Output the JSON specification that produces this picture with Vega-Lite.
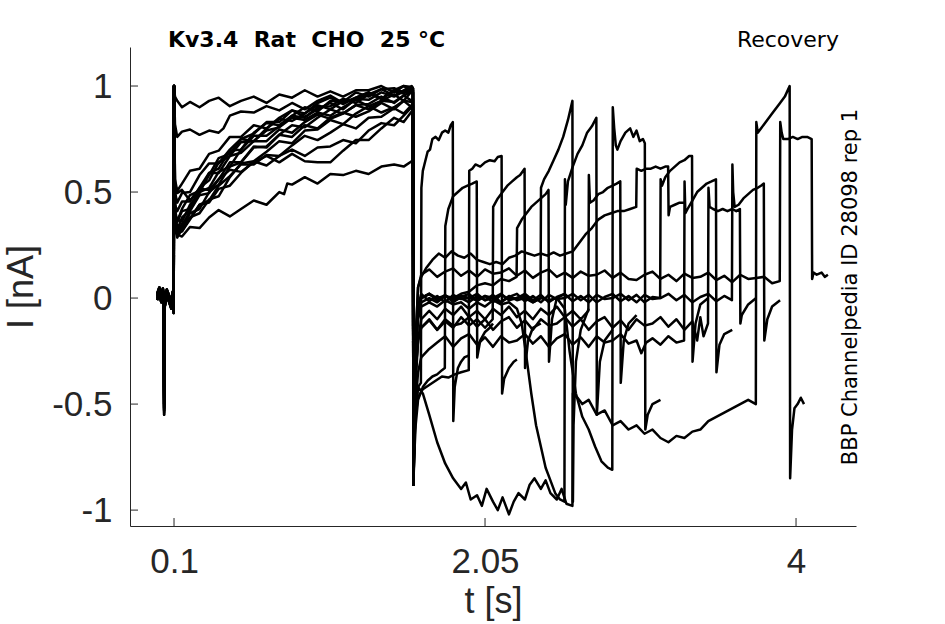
{
"$schema": "https://vega.github.io/schema/vega-lite/v6.json",
"autosize": {"type": "none"},
"padding": {"left": 130, "top": 47, "right": 89, "bottom": 98},
"width": 726,
"height": 479,
"background": "white",
"config": {
  "view": {"stroke": null},
  "axis": {"domainColor": "#262626", "labelColor": "#262626", "titleColor": "#262626", "labelFont": "Liberation Sans", "titleFont": "Liberation Sans", "labelFontSize": 35, "titleFontSize": 36, "titleFontWeight": "normal", "grid": false, "ticks": false, "domainWidth": 1}
},
"layer": [
{
"data": {"values": [
{"s":0,"t":-0.006,"v":0},{"s":0,"t":0.008,"v":0.03},{"s":0,"t":0.02,"v":-0.01},{"s":0,"t":0.03,"v":0.025},{"s":0,"t":0.036,"v":0},{"s":0,"t":0.038,"v":-0.52},{"s":0,"t":0.042,"v":-0.03},{"s":0,"t":0.055,"v":0.02},{"s":0,"t":0.07,"v":-0.01},{"s":0,"t":0.083,"v":-0.04},{"s":0,"t":0.092,"v":0.01},{"s":0,"t":0.098,"v":-0.06},{"s":0,"t":0.1,"v":1},{"s":0,"t":0.106,"v":0.95},
{"s":0,"t":0.12,"v":0.93},{"s":0,"t":0.15,"v":0.9},{"s":0,"t":0.2,"v":0.925},{"s":0,"t":0.26,"v":0.9},{"s":0,"t":0.32,"v":0.93},{"s":0,"t":0.38,"v":0.945},{"s":0,"t":0.45,"v":0.905},{"s":0,"t":0.52,"v":0.93},{"s":0,"t":0.6,"v":0.95},{"s":0,"t":0.68,"v":0.92},{"s":0,"t":0.76,"v":0.96},{"s":0,"t":0.84,"v":0.945},{"s":0,"t":0.92,"v":0.98},{"s":0,"t":1.0,"v":0.95},{"s":0,"t":1.08,"v":0.975},{"s":0,"t":1.16,"v":0.95},{"s":0,"t":1.24,"v":0.98},{"s":0,"t":1.32,"v":0.98},{"s":0,"t":1.4,"v":1.0},{"s":0,"t":1.48,"v":0.97},{"s":0,"t":1.54,"v":1.0},{"s":0,"t":1.59,"v":0.995},
{"s":0,"t":1.598,"v":0.99},{"s":0,"t":1.601,"v":-0.88},{"s":0,"t":1.606,"v":-0.7},{"s":0,"t":1.615,"v":-0.5},{"s":0,"t":1.63,"v":-0.42},{"s":0,"t":1.648,"v":-0.4},{"s":0,"t":1.651,"v":0.52},{"s":0,"t":1.66,"v":0.6},{"s":0,"t":1.67,"v":0.63},{"s":0,"t":1.69,"v":0.69},{"s":0,"t":1.705,"v":0.7},{"s":0,"t":1.72,"v":0.75},{"s":0,"t":1.74,"v":0.76},{"s":0,"t":1.76,"v":0.745},{"s":0,"t":1.78,"v":0.78},{"s":0,"t":1.8,"v":0.79},{"s":0,"t":1.82,"v":0.78},{"s":0,"t":1.835,"v":0.815},{"s":0,"t":1.848,"v":0.83},{"s":0,"t":1.851,"v":-0.58},{"s":0,"t":1.86,"v":-0.42},{"s":0,"t":1.88,"v":-0.33},{"s":0,"t":1.9,"v":-0.3},{"s":0,"t":1.92,"v":-0.28},{"s":0,"t":1.95,"v":-0.27},

{"s":1,"t":-0.006,"v":0.01},{"s":1,"t":0.008,"v":0.04},{"s":1,"t":0.02,"v":0},{"s":1,"t":0.03,"v":0.035},{"s":1,"t":0.036,"v":0.01},{"s":1,"t":0.038,"v":-0.48},{"s":1,"t":0.042,"v":-0.02},{"s":1,"t":0.055,"v":0.03},{"s":1,"t":0.07,"v":0},{"s":1,"t":0.083,"v":-0.03},{"s":1,"t":0.092,"v":0.02},{"s":1,"t":0.098,"v":-0.05},{"s":1,"t":0.1,"v":1},{"s":1,"t":0.106,"v":0.82},
{"s":1,"t":0.12,"v":0.76},{"s":1,"t":0.15,"v":0.785},{"s":1,"t":0.2,"v":0.795},{"s":1,"t":0.26,"v":0.77},{"s":1,"t":0.32,"v":0.79},{"s":1,"t":0.38,"v":0.78},{"s":1,"t":0.41,"v":0.8},{"s":1,"t":0.45,"v":0.86},{"s":1,"t":0.52,"v":0.88},{"s":1,"t":0.6,"v":0.875},{"s":1,"t":0.68,"v":0.905},{"s":1,"t":0.76,"v":0.885},{"s":1,"t":0.84,"v":0.92},{"s":1,"t":0.92,"v":0.89},{"s":1,"t":1.0,"v":0.93},{"s":1,"t":1.08,"v":0.955},{"s":1,"t":1.16,"v":0.92},{"s":1,"t":1.24,"v":0.945},{"s":1,"t":1.32,"v":0.97},{"s":1,"t":1.4,"v":0.94},{"s":1,"t":1.48,"v":0.98},{"s":1,"t":1.54,"v":0.97},{"s":1,"t":1.59,"v":0.995},
{"s":1,"t":1.598,"v":0.99},{"s":1,"t":1.601,"v":-0.88},{"s":1,"t":1.606,"v":-0.75},{"s":1,"t":1.615,"v":-0.6},{"s":1,"t":1.63,"v":-0.48},{"s":1,"t":1.66,"v":-0.42},{"s":1,"t":1.69,"v":-0.39},{"s":1,"t":1.72,"v":-0.37},{"s":1,"t":1.75,"v":-0.36},{"s":1,"t":1.78,"v":-0.34},{"s":1,"t":1.798,"v":-0.33},{"s":1,"t":1.801,"v":0.34},{"s":1,"t":1.82,"v":0.42},{"s":1,"t":1.85,"v":0.48},{"s":1,"t":1.88,"v":0.5},{"s":1,"t":1.91,"v":0.52},{"s":1,"t":1.94,"v":0.53},{"s":1,"t":1.97,"v":0.54},{"s":1,"t":1.998,"v":0.55},{"s":1,"t":2.001,"v":-0.28},{"s":1,"t":2.02,"v":-0.2},{"s":1,"t":2.05,"v":-0.16},{"s":1,"t":2.08,"v":-0.14},{"s":1,"t":2.1,"v":-0.12},

{"s":2,"t":-0.006,"v":-0.01},{"s":2,"t":0.008,"v":0.02},{"s":2,"t":0.02,"v":-0.02},{"s":2,"t":0.03,"v":0.015},{"s":2,"t":0.036,"v":-0.01},{"s":2,"t":0.038,"v":-0.55},{"s":2,"t":0.042,"v":-0.04},{"s":2,"t":0.055,"v":0.01},{"s":2,"t":0.07,"v":-0.02},{"s":2,"t":0.083,"v":-0.05},{"s":2,"t":0.092,"v":0},{"s":2,"t":0.098,"v":-0.07},{"s":2,"t":0.1,"v":1},{"s":2,"t":0.106,"v":0.56},
{"s":2,"t":0.12,"v":0.505},{"s":2,"t":0.15,"v":0.54},{"s":2,"t":0.2,"v":0.6},{"s":2,"t":0.26,"v":0.61},{"s":2,"t":0.32,"v":0.68},{"s":2,"t":0.38,"v":0.695},{"s":2,"t":0.45,"v":0.76},{"s":2,"t":0.52,"v":0.76},{"s":2,"t":0.6,"v":0.815},{"s":2,"t":0.68,"v":0.8},{"s":2,"t":0.76,"v":0.85},{"s":2,"t":0.84,"v":0.885},{"s":2,"t":0.92,"v":0.855},{"s":2,"t":1.0,"v":0.89},{"s":2,"t":1.08,"v":0.92},{"s":2,"t":1.16,"v":0.89},{"s":2,"t":1.24,"v":0.94},{"s":2,"t":1.32,"v":0.935},{"s":2,"t":1.4,"v":0.97},{"s":2,"t":1.48,"v":0.95},{"s":2,"t":1.54,"v":0.975},{"s":2,"t":1.59,"v":0.97},
{"s":2,"t":1.598,"v":0.97},{"s":2,"t":1.601,"v":-0.88},{"s":2,"t":1.606,"v":-0.7},{"s":2,"t":1.615,"v":-0.55},{"s":2,"t":1.63,"v":-0.47},{"s":2,"t":1.66,"v":-0.43},{"s":2,"t":1.7,"v":-0.41},{"s":2,"t":1.74,"v":-0.39},{"s":2,"t":1.78,"v":-0.37},{"s":2,"t":1.82,"v":-0.375},{"s":2,"t":1.86,"v":-0.36},{"s":2,"t":1.9,"v":-0.35},{"s":2,"t":1.948,"v":-0.34},{"s":2,"t":1.951,"v":0.6},{"s":2,"t":1.97,"v":0.61},{"s":2,"t":1.99,"v":0.63},{"s":2,"t":2.02,"v":0.62},{"s":2,"t":2.05,"v":0.64},{"s":2,"t":2.08,"v":0.65},{"s":2,"t":2.11,"v":0.645},{"s":2,"t":2.13,"v":0.665},{"s":2,"t":2.154,"v":0.67},{"s":2,"t":2.157,"v":-0.45},{"s":2,"t":2.17,"v":-0.38},{"s":2,"t":2.2,"v":-0.33},{"s":2,"t":2.23,"v":-0.3},{"s":2,"t":2.25,"v":-0.29},

{"s":3,"t":-0.006,"v":0.02},{"s":3,"t":0.008,"v":0.05},{"s":3,"t":0.02,"v":0.01},{"s":3,"t":0.03,"v":0.045},{"s":3,"t":0.036,"v":0.02},{"s":3,"t":0.038,"v":-0.45},{"s":3,"t":0.042,"v":-0.01},{"s":3,"t":0.055,"v":0.04},{"s":3,"t":0.07,"v":0.01},{"s":3,"t":0.083,"v":-0.02},{"s":3,"t":0.092,"v":0.03},{"s":3,"t":0.098,"v":-0.04},{"s":3,"t":0.1,"v":1},{"s":3,"t":0.106,"v":0.5},
{"s":3,"t":0.12,"v":0.45},{"s":3,"t":0.15,"v":0.495},{"s":3,"t":0.2,"v":0.5},{"s":3,"t":0.26,"v":0.58},{"s":3,"t":0.32,"v":0.635},{"s":3,"t":0.38,"v":0.635},{"s":3,"t":0.45,"v":0.7},{"s":3,"t":0.52,"v":0.75},{"s":3,"t":0.6,"v":0.74},{"s":3,"t":0.68,"v":0.79},{"s":3,"t":0.76,"v":0.805},{"s":3,"t":0.84,"v":0.85},{"s":3,"t":0.92,"v":0.84},{"s":3,"t":1.0,"v":0.875},{"s":3,"t":1.08,"v":0.86},{"s":3,"t":1.16,"v":0.9},{"s":3,"t":1.24,"v":0.935},{"s":3,"t":1.32,"v":0.905},{"s":3,"t":1.4,"v":0.93},{"s":3,"t":1.48,"v":0.96},{"s":3,"t":1.54,"v":0.93},{"s":3,"t":1.59,"v":0.975},
{"s":3,"t":1.598,"v":0.97},{"s":3,"t":1.601,"v":-0.88},{"s":3,"t":1.606,"v":-0.6},{"s":3,"t":1.615,"v":-0.35},{"s":3,"t":1.63,"v":-0.2},{"s":3,"t":1.65,"v":-0.14},{"s":3,"t":1.7,"v":-0.1},{"s":3,"t":1.75,"v":-0.15},{"s":3,"t":1.8,"v":-0.11},{"s":3,"t":1.85,"v":-0.14},{"s":3,"t":1.9,"v":-0.09},{"s":3,"t":1.95,"v":-0.13},{"s":3,"t":2.0,"v":-0.1},{"s":3,"t":2.05,"v":-0.14},{"s":3,"t":2.098,"v":-0.1},{"s":3,"t":2.101,"v":0.43},{"s":3,"t":2.13,"v":0.47},{"s":3,"t":2.16,"v":0.5},{"s":3,"t":2.19,"v":0.53},{"s":3,"t":2.22,"v":0.55},{"s":3,"t":2.25,"v":0.57},{"s":3,"t":2.27,"v":0.58},{"s":3,"t":2.298,"v":0.61},{"s":3,"t":2.301,"v":-0.33},{"s":3,"t":2.32,"v":-0.2},{"s":3,"t":2.35,"v":-0.14},{"s":3,"t":2.4,"v":-0.12},

{"s":4,"t":-0.006,"v":0},{"s":4,"t":0.008,"v":0.03},{"s":4,"t":0.02,"v":-0.01},{"s":4,"t":0.03,"v":0.025},{"s":4,"t":0.036,"v":0},{"s":4,"t":0.038,"v":-0.53},{"s":4,"t":0.042,"v":-0.03},{"s":4,"t":0.055,"v":0.02},{"s":4,"t":0.07,"v":-0.01},{"s":4,"t":0.083,"v":-0.04},{"s":4,"t":0.092,"v":0.01},{"s":4,"t":0.098,"v":-0.06},{"s":4,"t":0.1,"v":1},{"s":4,"t":0.106,"v":0.44},
{"s":4,"t":0.12,"v":0.41},{"s":4,"t":0.15,"v":0.455},{"s":4,"t":0.2,"v":0.455},{"s":4,"t":0.26,"v":0.52},{"s":4,"t":0.32,"v":0.59},{"s":4,"t":0.38,"v":0.59},{"s":4,"t":0.45,"v":0.67},{"s":4,"t":0.52,"v":0.685},{"s":4,"t":0.6,"v":0.74},{"s":4,"t":0.68,"v":0.74},{"s":4,"t":0.76,"v":0.795},{"s":4,"t":0.84,"v":0.78},{"s":4,"t":0.92,"v":0.83},{"s":4,"t":1.0,"v":0.865},{"s":4,"t":1.08,"v":0.845},{"s":4,"t":1.16,"v":0.87},{"s":4,"t":1.24,"v":0.91},{"s":4,"t":1.32,"v":0.89},{"s":4,"t":1.4,"v":0.93},{"s":4,"t":1.48,"v":0.925},{"s":4,"t":1.54,"v":0.955},{"s":4,"t":1.59,"v":0.93},
{"s":4,"t":1.598,"v":0.94},{"s":4,"t":1.601,"v":-0.88},{"s":4,"t":1.606,"v":-0.5},{"s":4,"t":1.615,"v":-0.2},{"s":4,"t":1.63,"v":-0.05},{"s":4,"t":1.65,"v":0},{"s":4,"t":1.7,"v":0.02},{"s":4,"t":1.75,"v":-0.01},{"s":4,"t":1.8,"v":0.01},{"s":4,"t":1.85,"v":0},{"s":4,"t":1.9,"v":0.02},{"s":4,"t":1.95,"v":0.03},{"s":4,"t":2.0,"v":0.06},{"s":4,"t":2.05,"v":0.07},{"s":4,"t":2.1,"v":0.06},{"s":4,"t":2.15,"v":0.09},{"s":4,"t":2.2,"v":0.08},{"s":4,"t":2.248,"v":0.1},{"s":4,"t":2.251,"v":0.33},{"s":4,"t":2.28,"v":0.37},{"s":4,"t":2.31,"v":0.4},{"s":4,"t":2.34,"v":0.43},{"s":4,"t":2.37,"v":0.45},{"s":4,"t":2.4,"v":0.47},{"s":4,"t":2.43,"v":0.49},{"s":4,"t":2.448,"v":0.51},{"s":4,"t":2.451,"v":-0.3},{"s":4,"t":2.47,"v":-0.1},{"s":4,"t":2.5,"v":0},{"s":4,"t":2.55,"v":0.02},

{"s":5,"t":-0.006,"v":0.01},{"s":5,"t":0.008,"v":0.04},{"s":5,"t":0.02,"v":0},{"s":5,"t":0.03,"v":0.035},{"s":5,"t":0.036,"v":0.01},{"s":5,"t":0.038,"v":-0.5},{"s":5,"t":0.042,"v":-0.02},{"s":5,"t":0.055,"v":0.03},{"s":5,"t":0.07,"v":0},{"s":5,"t":0.083,"v":-0.03},{"s":5,"t":0.092,"v":0.02},{"s":5,"t":0.098,"v":-0.05},{"s":5,"t":0.1,"v":1},{"s":5,"t":0.106,"v":0.4},
{"s":5,"t":0.12,"v":0.36},{"s":5,"t":0.15,"v":0.41},{"s":5,"t":0.2,"v":0.42},{"s":5,"t":0.26,"v":0.52},{"s":5,"t":0.32,"v":0.555},{"s":5,"t":0.38,"v":0.64},{"s":5,"t":0.45,"v":0.67},{"s":5,"t":0.52,"v":0.735},{"s":5,"t":0.6,"v":0.74},{"s":5,"t":0.68,"v":0.8},{"s":5,"t":0.76,"v":0.845},{"s":5,"t":0.84,"v":0.835},{"s":5,"t":0.92,"v":0.87},{"s":5,"t":1.0,"v":0.91},{"s":5,"t":1.08,"v":0.89},{"s":5,"t":1.16,"v":0.93},{"s":5,"t":1.24,"v":0.935},{"s":5,"t":1.32,"v":0.965},{"s":5,"t":1.4,"v":0.94},{"s":5,"t":1.48,"v":0.98},{"s":5,"t":1.54,"v":1.0},{"s":5,"t":1.59,"v":0.975},
{"s":5,"t":1.598,"v":0.98},{"s":5,"t":1.601,"v":-0.88},{"s":5,"t":1.606,"v":-0.55},{"s":5,"t":1.615,"v":-0.25},{"s":5,"t":1.63,"v":-0.08},{"s":5,"t":1.65,"v":-0.02},{"s":5,"t":1.7,"v":0},{"s":5,"t":1.75,"v":-0.02},{"s":5,"t":1.8,"v":0.01},{"s":5,"t":1.85,"v":-0.01},{"s":5,"t":1.9,"v":0},{"s":5,"t":1.95,"v":-0.02},{"s":5,"t":2.0,"v":0.01},{"s":5,"t":2.05,"v":-0.01},{"s":5,"t":2.1,"v":0},{"s":5,"t":2.15,"v":-0.02},{"s":5,"t":2.2,"v":0.01},{"s":5,"t":2.25,"v":-0.01},{"s":5,"t":2.3,"v":0},{"s":5,"t":2.35,"v":-0.02},{"s":5,"t":2.398,"v":0},{"s":5,"t":2.401,"v":0.52},{"s":5,"t":2.42,"v":0.56},{"s":5,"t":2.45,"v":0.6},{"s":5,"t":2.48,"v":0.65},{"s":5,"t":2.51,"v":0.7},{"s":5,"t":2.54,"v":0.76},{"s":5,"t":2.57,"v":0.84},{"s":5,"t":2.598,"v":0.93},{"s":5,"t":2.601,"v":-0.96},{"s":5,"t":2.605,"v":-0.6},{"s":5,"t":2.62,"v":-0.3},{"s":5,"t":2.65,"v":-0.15},{"s":5,"t":2.7,"v":-0.05},

{"s":6,"t":-0.006,"v":-0.01},{"s":6,"t":0.008,"v":0.02},{"s":6,"t":0.02,"v":-0.02},{"s":6,"t":0.03,"v":0.015},{"s":6,"t":0.036,"v":-0.01},{"s":6,"t":0.038,"v":-0.42},{"s":6,"t":0.042,"v":-0.04},{"s":6,"t":0.055,"v":0.01},{"s":6,"t":0.07,"v":-0.02},{"s":6,"t":0.083,"v":-0.05},{"s":6,"t":0.092,"v":0},{"s":6,"t":0.098,"v":-0.07},{"s":6,"t":0.1,"v":1},{"s":6,"t":0.106,"v":0.37},
{"s":6,"t":0.12,"v":0.345},{"s":6,"t":0.15,"v":0.34},{"s":6,"t":0.2,"v":0.41},{"s":6,"t":0.26,"v":0.485},{"s":6,"t":0.32,"v":0.495},{"s":6,"t":0.38,"v":0.56},{"s":6,"t":0.45,"v":0.64},{"s":6,"t":0.52,"v":0.64},{"s":6,"t":0.6,"v":0.71},{"s":6,"t":0.68,"v":0.715},{"s":6,"t":0.76,"v":0.77},{"s":6,"t":0.84,"v":0.76},{"s":6,"t":0.92,"v":0.815},{"s":6,"t":1.0,"v":0.8},{"s":6,"t":1.08,"v":0.85},{"s":6,"t":1.16,"v":0.875},{"s":6,"t":1.24,"v":0.855},{"s":6,"t":1.32,"v":0.88},{"s":6,"t":1.4,"v":0.92},{"s":6,"t":1.48,"v":0.89},{"s":6,"t":1.54,"v":0.93},{"s":6,"t":1.59,"v":0.925},
{"s":6,"t":1.598,"v":0.93},{"s":6,"t":1.601,"v":-0.88},{"s":6,"t":1.606,"v":-0.6},{"s":6,"t":1.615,"v":-0.3},{"s":6,"t":1.63,"v":-0.1},{"s":6,"t":1.65,"v":-0.04},{"s":6,"t":1.7,"v":-0.02},{"s":6,"t":1.75,"v":-0.04},{"s":6,"t":1.8,"v":-0.01},{"s":6,"t":1.85,"v":-0.03},{"s":6,"t":1.9,"v":-0.02},{"s":6,"t":1.95,"v":-0.05},{"s":6,"t":2.0,"v":-0.02},{"s":6,"t":2.05,"v":-0.04},{"s":6,"t":2.1,"v":-0.01},{"s":6,"t":2.15,"v":-0.03},{"s":6,"t":2.2,"v":-0.02},{"s":6,"t":2.25,"v":-0.05},{"s":6,"t":2.28,"v":-0.12},{"s":6,"t":2.31,"v":-0.28},{"s":6,"t":2.34,"v":-0.45},{"s":6,"t":2.37,"v":-0.6},{"s":6,"t":2.4,"v":-0.7},{"s":6,"t":2.43,"v":-0.8},{"s":6,"t":2.46,"v":-0.86},{"s":6,"t":2.49,"v":-0.92},{"s":6,"t":2.52,"v":-0.95},{"s":6,"t":2.548,"v":-0.96},{"s":6,"t":2.551,"v":0.56},{"s":6,"t":2.556,"v":0.44},{"s":6,"t":2.57,"v":0.55},{"s":6,"t":2.6,"v":0.62},{"s":6,"t":2.63,"v":0.68},{"s":6,"t":2.66,"v":0.72},{"s":6,"t":2.69,"v":0.78},{"s":6,"t":2.72,"v":0.81},{"s":6,"t":2.748,"v":0.85},{"s":6,"t":2.751,"v":-0.55},{"s":6,"t":2.77,"v":-0.3},{"s":6,"t":2.8,"v":-0.2},{"s":6,"t":2.85,"v":-0.15},

{"s":7,"t":-0.006,"v":0.02},{"s":7,"t":0.008,"v":0.05},{"s":7,"t":0.02,"v":0.01},{"s":7,"t":0.03,"v":0.045},{"s":7,"t":0.036,"v":0.02},{"s":7,"t":0.038,"v":-0.54},{"s":7,"t":0.042,"v":-0.01},{"s":7,"t":0.055,"v":0.04},{"s":7,"t":0.07,"v":0.01},{"s":7,"t":0.083,"v":-0.02},{"s":7,"t":0.092,"v":0.03},{"s":7,"t":0.098,"v":-0.04},{"s":7,"t":0.1,"v":1},{"s":7,"t":0.106,"v":0.35},
{"s":7,"t":0.12,"v":0.335},{"s":7,"t":0.15,"v":0.315},{"s":7,"t":0.2,"v":0.37},{"s":7,"t":0.26,"v":0.44},{"s":7,"t":0.32,"v":0.46},{"s":7,"t":0.38,"v":0.53},{"s":7,"t":0.45,"v":0.575},{"s":7,"t":0.52,"v":0.63},{"s":7,"t":0.6,"v":0.63},{"s":7,"t":0.68,"v":0.675},{"s":7,"t":0.76,"v":0.67},{"s":7,"t":0.84,"v":0.72},{"s":7,"t":0.92,"v":0.765},{"s":7,"t":1.0,"v":0.745},{"s":7,"t":1.08,"v":0.78},{"s":7,"t":1.16,"v":0.82},{"s":7,"t":1.24,"v":0.8},{"s":7,"t":1.32,"v":0.85},{"s":7,"t":1.4,"v":0.855},{"s":7,"t":1.48,"v":0.895},{"s":7,"t":1.54,"v":0.87},{"s":7,"t":1.59,"v":0.91},
{"s":7,"t":1.598,"v":0.9},{"s":7,"t":1.601,"v":-0.88},{"s":7,"t":1.606,"v":-0.65},{"s":7,"t":1.615,"v":-0.4},{"s":7,"t":1.63,"v":-0.2},{"s":7,"t":1.65,"v":-0.1},{"s":7,"t":1.7,"v":-0.06},{"s":7,"t":1.75,"v":-0.1},{"s":7,"t":1.8,"v":-0.05},{"s":7,"t":1.85,"v":-0.08},{"s":7,"t":1.9,"v":-0.04},{"s":7,"t":1.95,"v":-0.09},{"s":7,"t":2.0,"v":-0.06},{"s":7,"t":2.05,"v":-0.1},{"s":7,"t":2.1,"v":-0.05},{"s":7,"t":2.15,"v":-0.08},{"s":7,"t":2.2,"v":-0.04},{"s":7,"t":2.25,"v":-0.09},{"s":7,"t":2.3,"v":-0.06},{"s":7,"t":2.35,"v":-0.1},{"s":7,"t":2.4,"v":-0.05},{"s":7,"t":2.45,"v":-0.08},{"s":7,"t":2.5,"v":-0.04},{"s":7,"t":2.55,"v":-0.09},{"s":7,"t":2.6,"v":-0.06},{"s":7,"t":2.65,"v":-0.1},{"s":7,"t":2.698,"v":-0.06},{"s":7,"t":2.701,"v":0.58},{"s":7,"t":2.708,"v":0.45},{"s":7,"t":2.73,"v":0.46},{"s":7,"t":2.76,"v":0.49},{"s":7,"t":2.79,"v":0.5},{"s":7,"t":2.82,"v":0.52},{"s":7,"t":2.85,"v":0.53},{"s":7,"t":2.875,"v":0.54},{"s":7,"t":2.898,"v":0.55},{"s":7,"t":2.901,"v":-0.4},{"s":7,"t":2.92,"v":-0.2},{"s":7,"t":2.95,"v":-0.12},{"s":7,"t":3.0,"v":-0.08},

{"s":8,"t":-0.006,"v":0},{"s":8,"t":0.008,"v":0.03},{"s":8,"t":0.02,"v":-0.01},{"s":8,"t":0.03,"v":0.025},{"s":8,"t":0.036,"v":0},{"s":8,"t":0.038,"v":-0.47},{"s":8,"t":0.042,"v":-0.03},{"s":8,"t":0.055,"v":0.02},{"s":8,"t":0.07,"v":-0.01},{"s":8,"t":0.083,"v":-0.04},{"s":8,"t":0.092,"v":0.01},{"s":8,"t":0.098,"v":-0.06},{"s":8,"t":0.1,"v":1},{"s":8,"t":0.106,"v":0.39},
{"s":8,"t":0.12,"v":0.37},{"s":8,"t":0.15,"v":0.36},{"s":8,"t":0.2,"v":0.44},{"s":8,"t":0.26,"v":0.495},{"s":8,"t":0.32,"v":0.59},{"s":8,"t":0.38,"v":0.61},{"s":8,"t":0.45,"v":0.695},{"s":8,"t":0.52,"v":0.7},{"s":8,"t":0.6,"v":0.78},{"s":8,"t":0.68,"v":0.825},{"s":8,"t":0.76,"v":0.815},{"s":8,"t":0.84,"v":0.86},{"s":8,"t":0.92,"v":0.9},{"s":8,"t":1.0,"v":0.88},{"s":8,"t":1.08,"v":0.93},{"s":8,"t":1.16,"v":0.925},{"s":8,"t":1.24,"v":0.97},{"s":8,"t":1.32,"v":0.95},{"s":8,"t":1.4,"v":0.985},{"s":8,"t":1.48,"v":0.99},{"s":8,"t":1.54,"v":0.97},{"s":8,"t":1.59,"v":0.99},
{"s":8,"t":1.598,"v":0.99},{"s":8,"t":1.601,"v":-0.88},{"s":8,"t":1.606,"v":-0.55},{"s":8,"t":1.615,"v":-0.25},{"s":8,"t":1.63,"v":-0.06},{"s":8,"t":1.65,"v":0},{"s":8,"t":1.7,"v":0.02},{"s":8,"t":1.75,"v":0},{"s":8,"t":1.8,"v":0.01},{"s":8,"t":1.85,"v":-0.01},{"s":8,"t":1.9,"v":0.01},{"s":8,"t":1.95,"v":0},{"s":8,"t":2.0,"v":-0.01},{"s":8,"t":2.05,"v":0.01},{"s":8,"t":2.1,"v":0},{"s":8,"t":2.15,"v":0.02},{"s":8,"t":2.2,"v":-0.01},{"s":8,"t":2.25,"v":0},{"s":8,"t":2.3,"v":0.01},{"s":8,"t":2.35,"v":-0.02},{"s":8,"t":2.4,"v":0},{"s":8,"t":2.45,"v":-0.01},{"s":8,"t":2.5,"v":0},{"s":8,"t":2.55,"v":-0.05},{"s":8,"t":2.58,"v":-0.25},{"s":8,"t":2.62,"v":-0.45},{"s":8,"t":2.66,"v":-0.56},{"s":8,"t":2.7,"v":-0.62},{"s":8,"t":2.74,"v":-0.7},{"s":8,"t":2.78,"v":-0.77},{"s":8,"t":2.82,"v":-0.8},{"s":8,"t":2.848,"v":-0.81},{"s":8,"t":2.851,"v":0.9},{"s":8,"t":2.86,"v":0.8},{"s":8,"t":2.87,"v":0.72},{"s":8,"t":2.88,"v":0.7},{"s":8,"t":2.9,"v":0.74},{"s":8,"t":2.93,"v":0.78},{"s":8,"t":2.96,"v":0.8},{"s":8,"t":2.98,"v":0.76},{"s":8,"t":3.0,"v":0.79},{"s":8,"t":3.02,"v":0.74},{"s":8,"t":3.04,"v":0.75},{"s":8,"t":3.052,"v":0.73},{"s":8,"t":3.055,"v":-0.62},{"s":8,"t":3.07,"v":-0.55},{"s":8,"t":3.1,"v":-0.5},{"s":8,"t":3.15,"v":-0.48},

{"s":9,"t":-0.006,"v":0.01},{"s":9,"t":0.008,"v":0.04},{"s":9,"t":0.02,"v":0},{"s":9,"t":0.03,"v":0.035},{"s":9,"t":0.036,"v":0.01},{"s":9,"t":0.038,"v":-0.51},{"s":9,"t":0.042,"v":-0.02},{"s":9,"t":0.055,"v":0.03},{"s":9,"t":0.07,"v":0},{"s":9,"t":0.083,"v":-0.03},{"s":9,"t":0.092,"v":0.02},{"s":9,"t":0.098,"v":-0.05},{"s":9,"t":0.1,"v":1},{"s":9,"t":0.106,"v":0.36},
{"s":9,"t":0.12,"v":0.3},{"s":9,"t":0.15,"v":0.35},{"s":9,"t":0.2,"v":0.375},{"s":9,"t":0.26,"v":0.44},{"s":9,"t":0.32,"v":0.45},{"s":9,"t":0.38,"v":0.515},{"s":9,"t":0.45,"v":0.53},{"s":9,"t":0.52,"v":0.59},{"s":9,"t":0.6,"v":0.645},{"s":9,"t":0.68,"v":0.625},{"s":9,"t":0.76,"v":0.67},{"s":9,"t":0.84,"v":0.7},{"s":9,"t":0.92,"v":0.67},{"s":9,"t":1.0,"v":0.71},{"s":9,"t":1.08,"v":0.715},{"s":9,"t":1.16,"v":0.745},{"s":9,"t":1.24,"v":0.73},{"s":9,"t":1.32,"v":0.79},{"s":9,"t":1.4,"v":0.825},{"s":9,"t":1.48,"v":0.815},{"s":9,"t":1.54,"v":0.86},{"s":9,"t":1.59,"v":0.9},
{"s":9,"t":1.598,"v":0.89},{"s":9,"t":1.601,"v":-0.88},{"s":9,"t":1.606,"v":-0.6},{"s":9,"t":1.615,"v":-0.2},{"s":9,"t":1.63,"v":0.05},{"s":9,"t":1.65,"v":0.1},{"s":9,"t":1.68,"v":0.14},{"s":9,"t":1.72,"v":0.18},{"s":9,"t":1.76,"v":0.21},{"s":9,"t":1.8,"v":0.19},{"s":9,"t":1.84,"v":0.22},{"s":9,"t":1.88,"v":0.2},{"s":9,"t":1.92,"v":0.19},{"s":9,"t":1.96,"v":0.21},{"s":9,"t":2.0,"v":0.18},{"s":9,"t":2.04,"v":0.17},{"s":9,"t":2.08,"v":0.16},{"s":9,"t":2.12,"v":0.17},{"s":9,"t":2.16,"v":0.16},{"s":9,"t":2.2,"v":0.19},{"s":9,"t":2.24,"v":0.2},{"s":9,"t":2.28,"v":0.22},{"s":9,"t":2.32,"v":0.21},{"s":9,"t":2.36,"v":0.2},{"s":9,"t":2.4,"v":0.21},{"s":9,"t":2.44,"v":0.2},{"s":9,"t":2.48,"v":0.215},{"s":9,"t":2.52,"v":0.2},{"s":9,"t":2.56,"v":0.21},{"s":9,"t":2.6,"v":0.22},{"s":9,"t":2.64,"v":0.26},{"s":9,"t":2.68,"v":0.3},{"s":9,"t":2.72,"v":0.33},{"s":9,"t":2.76,"v":0.37},{"s":9,"t":2.8,"v":0.39},{"s":9,"t":2.84,"v":0.4},{"s":9,"t":2.88,"v":0.41},{"s":9,"t":2.92,"v":0.41},{"s":9,"t":2.96,"v":0.42},{"s":9,"t":2.998,"v":0.43},{"s":9,"t":3.001,"v":0.61},{"s":9,"t":3.03,"v":0.6},{"s":9,"t":3.06,"v":0.61},{"s":9,"t":3.09,"v":0.61},{"s":9,"t":3.12,"v":0.62},{"s":9,"t":3.15,"v":0.61},{"s":9,"t":3.18,"v":0.62},{"s":9,"t":3.198,"v":0.62},{"s":9,"t":3.201,"v":0.39},{"s":9,"t":3.21,"v":0.43},{"s":9,"t":3.24,"v":0.44},{"s":9,"t":3.27,"v":0.45},{"s":9,"t":3.3,"v":0.45},

{"s":10,"t":-0.006,"v":-0.01},{"s":10,"t":0.008,"v":0.02},{"s":10,"t":0.02,"v":-0.02},{"s":10,"t":0.03,"v":0.015},{"s":10,"t":0.036,"v":-0.01},{"s":10,"t":0.038,"v":-0.55},{"s":10,"t":0.042,"v":-0.04},{"s":10,"t":0.055,"v":0.01},{"s":10,"t":0.07,"v":-0.02},{"s":10,"t":0.083,"v":-0.05},{"s":10,"t":0.092,"v":0},{"s":10,"t":0.098,"v":-0.07},{"s":10,"t":0.1,"v":1},{"s":10,"t":0.106,"v":0.33},
{"s":10,"t":0.12,"v":0.3},{"s":10,"t":0.15,"v":0.315},{"s":10,"t":0.2,"v":0.38},{"s":10,"t":0.26,"v":0.4},{"s":10,"t":0.32,"v":0.465},{"s":10,"t":0.38,"v":0.48},{"s":10,"t":0.45,"v":0.57},{"s":10,"t":0.52,"v":0.635},{"s":10,"t":0.6,"v":0.645},{"s":10,"t":0.68,"v":0.69},{"s":10,"t":0.76,"v":0.74},{"s":10,"t":0.84,"v":0.73},{"s":10,"t":0.92,"v":0.79},{"s":10,"t":1.0,"v":0.795},{"s":10,"t":1.08,"v":0.84},{"s":10,"t":1.16,"v":0.82},{"s":10,"t":1.24,"v":0.87},{"s":10,"t":1.32,"v":0.905},{"s":10,"t":1.4,"v":0.875},{"s":10,"t":1.48,"v":0.9},{"s":10,"t":1.54,"v":0.93},{"s":10,"t":1.59,"v":0.9},
{"s":10,"t":1.598,"v":0.91},{"s":10,"t":1.601,"v":-0.88},{"s":10,"t":1.606,"v":-0.5},{"s":10,"t":1.615,"v":-0.2},{"s":10,"t":1.63,"v":-0.04},{"s":10,"t":1.65,"v":0},{"s":10,"t":1.7,"v":0.02},{"s":10,"t":1.75,"v":-0.01},{"s":10,"t":1.8,"v":0.015},{"s":10,"t":1.85,"v":-0.02},{"s":10,"t":1.9,"v":0.005},{"s":10,"t":1.95,"v":0.02},{"s":10,"t":2.0,"v":-0.015},{"s":10,"t":2.05,"v":0.01},{"s":10,"t":2.1,"v":-0.02},{"s":10,"t":2.15,"v":0.015},{"s":10,"t":2.2,"v":-0.005},{"s":10,"t":2.25,"v":0},{"s":10,"t":2.3,"v":0.02},{"s":10,"t":2.35,"v":-0.01},{"s":10,"t":2.4,"v":0.015},{"s":10,"t":2.45,"v":-0.02},{"s":10,"t":2.5,"v":0.005},{"s":10,"t":2.55,"v":0.02},{"s":10,"t":2.6,"v":-0.015},{"s":10,"t":2.65,"v":0.01},{"s":10,"t":2.7,"v":-0.02},{"s":10,"t":2.75,"v":0.015},{"s":10,"t":2.8,"v":-0.005},{"s":10,"t":2.85,"v":0},{"s":10,"t":2.9,"v":0.02},{"s":10,"t":2.95,"v":-0.01},{"s":10,"t":3.0,"v":0.015},{"s":10,"t":3.05,"v":-0.02},{"s":10,"t":3.1,"v":0.005},{"s":10,"t":3.148,"v":0},{"s":10,"t":3.151,"v":0.56},{"s":10,"t":3.16,"v":0.53},{"s":10,"t":3.18,"v":0.57},{"s":10,"t":3.21,"v":0.6},{"s":10,"t":3.24,"v":0.62},{"s":10,"t":3.27,"v":0.64},{"s":10,"t":3.3,"v":0.65},{"s":10,"t":3.33,"v":0.67},{"s":10,"t":3.348,"v":0.67},{"s":10,"t":3.351,"v":-0.3},{"s":10,"t":3.37,"v":-0.12},{"s":10,"t":3.4,"v":-0.03},{"s":10,"t":3.45,"v":0},

{"s":11,"t":-0.006,"v":0.02},{"s":11,"t":0.008,"v":0.05},{"s":11,"t":0.02,"v":0.01},{"s":11,"t":0.03,"v":0.045},{"s":11,"t":0.036,"v":0.02},{"s":11,"t":0.038,"v":-0.44},{"s":11,"t":0.042,"v":-0.01},{"s":11,"t":0.055,"v":0.04},{"s":11,"t":0.07,"v":0.01},{"s":11,"t":0.083,"v":-0.02},{"s":11,"t":0.092,"v":0.03},{"s":11,"t":0.098,"v":-0.04},{"s":11,"t":0.1,"v":1},{"s":11,"t":0.106,"v":0.54},
{"s":11,"t":0.12,"v":0.495},{"s":11,"t":0.15,"v":0.51},{"s":11,"t":0.2,"v":0.46},{"s":11,"t":0.26,"v":0.515},{"s":11,"t":0.32,"v":0.51},{"s":11,"t":0.38,"v":0.56},{"s":11,"t":0.45,"v":0.605},{"s":11,"t":0.52,"v":0.595},{"s":11,"t":0.6,"v":0.64},{"s":11,"t":0.68,"v":0.67},{"s":11,"t":0.76,"v":0.64},{"s":11,"t":0.84,"v":0.68},{"s":11,"t":0.92,"v":0.645},{"s":11,"t":1.0,"v":0.64},{"s":11,"t":1.08,"v":0.64},{"s":11,"t":1.16,"v":0.695},{"s":11,"t":1.24,"v":0.745},{"s":11,"t":1.32,"v":0.745},{"s":11,"t":1.4,"v":0.8},{"s":11,"t":1.48,"v":0.85},{"s":11,"t":1.54,"v":0.83},{"s":11,"t":1.59,"v":0.88},
{"s":11,"t":1.598,"v":0.87},{"s":11,"t":1.601,"v":-0.88},{"s":11,"t":1.606,"v":-0.7},{"s":11,"t":1.615,"v":-0.5},{"s":11,"t":1.63,"v":-0.35},{"s":11,"t":1.65,"v":-0.28},{"s":11,"t":1.7,"v":-0.24},{"s":11,"t":1.75,"v":-0.21},{"s":11,"t":1.8,"v":-0.18},{"s":11,"t":1.85,"v":-0.23},{"s":11,"t":1.9,"v":-0.19},{"s":11,"t":1.95,"v":-0.17},{"s":11,"t":2.0,"v":-0.22},{"s":11,"t":2.05,"v":-0.185},{"s":11,"t":2.1,"v":-0.23},{"s":11,"t":2.15,"v":-0.18},{"s":11,"t":2.2,"v":-0.21},{"s":11,"t":2.25,"v":-0.2},{"s":11,"t":2.3,"v":-0.17},{"s":11,"t":2.35,"v":-0.215},{"s":11,"t":2.4,"v":-0.18},{"s":11,"t":2.45,"v":-0.23},{"s":11,"t":2.5,"v":-0.19},{"s":11,"t":2.55,"v":-0.17},{"s":11,"t":2.6,"v":-0.22},{"s":11,"t":2.65,"v":-0.185},{"s":11,"t":2.7,"v":-0.23},{"s":11,"t":2.75,"v":-0.18},{"s":11,"t":2.8,"v":-0.21},{"s":11,"t":2.85,"v":-0.2},{"s":11,"t":2.9,"v":-0.17},{"s":11,"t":2.95,"v":-0.215},{"s":11,"t":3.0,"v":-0.2},{"s":11,"t":3.03,"v":-0.26},{"s":11,"t":3.06,"v":-0.21},{"s":11,"t":3.1,"v":-0.19},{"s":11,"t":3.15,"v":-0.22},{"s":11,"t":3.2,"v":-0.18},{"s":11,"t":3.25,"v":-0.21},{"s":11,"t":3.298,"v":-0.2},{"s":11,"t":3.301,"v":0.55},{"s":11,"t":3.306,"v":0.4},{"s":11,"t":3.32,"v":0.42},{"s":11,"t":3.35,"v":0.46},{"s":11,"t":3.38,"v":0.5},{"s":11,"t":3.41,"v":0.52},{"s":11,"t":3.44,"v":0.54},{"s":11,"t":3.47,"v":0.55},{"s":11,"t":3.498,"v":0.56},{"s":11,"t":3.501,"v":-0.35},{"s":11,"t":3.52,"v":-0.22},{"s":11,"t":3.55,"v":-0.17},{"s":11,"t":3.6,"v":-0.15},

{"s":12,"t":-0.006,"v":0},{"s":12,"t":0.008,"v":0.03},{"s":12,"t":0.02,"v":-0.01},{"s":12,"t":0.03,"v":0.025},{"s":12,"t":0.036,"v":0},{"s":12,"t":0.038,"v":-0.5},{"s":12,"t":0.042,"v":-0.03},{"s":12,"t":0.055,"v":0.02},{"s":12,"t":0.07,"v":-0.01},{"s":12,"t":0.083,"v":-0.04},{"s":12,"t":0.092,"v":0.01},{"s":12,"t":0.098,"v":-0.06},{"s":12,"t":0.1,"v":1},{"s":12,"t":0.106,"v":0.32},
{"s":12,"t":0.12,"v":0.3},{"s":12,"t":0.15,"v":0.29},{"s":12,"t":0.2,"v":0.335},{"s":12,"t":0.26,"v":0.33},{"s":12,"t":0.32,"v":0.38},{"s":12,"t":0.38,"v":0.415},{"s":12,"t":0.45,"v":0.385},{"s":12,"t":0.52,"v":0.42},{"s":12,"t":0.6,"v":0.46},{"s":12,"t":0.68,"v":0.44},{"s":12,"t":0.76,"v":0.5},{"s":12,"t":0.79,"v":0.49},{"s":12,"t":0.81,"v":0.54},{"s":12,"t":0.84,"v":0.535},{"s":12,"t":0.92,"v":0.57},{"s":12,"t":1.0,"v":0.54},{"s":12,"t":1.08,"v":0.585},{"s":12,"t":1.16,"v":0.58},{"s":12,"t":1.24,"v":0.6},{"s":12,"t":1.32,"v":0.585},{"s":12,"t":1.4,"v":0.62},{"s":12,"t":1.48,"v":0.63},{"s":12,"t":1.54,"v":0.62},{"s":12,"t":1.59,"v":0.645},
{"s":12,"t":1.598,"v":0.64},{"s":12,"t":1.601,"v":-0.88},{"s":12,"t":1.606,"v":-0.6},{"s":12,"t":1.615,"v":-0.35},{"s":12,"t":1.63,"v":-0.2},{"s":12,"t":1.65,"v":-0.14},{"s":12,"t":1.7,"v":-0.105},{"s":12,"t":1.75,"v":-0.15},{"s":12,"t":1.8,"v":-0.1},{"s":12,"t":1.85,"v":-0.13},{"s":12,"t":1.9,"v":-0.12},{"s":12,"t":1.95,"v":-0.09},{"s":12,"t":2.0,"v":-0.135},{"s":12,"t":2.05,"v":-0.1},{"s":12,"t":2.1,"v":-0.15},{"s":12,"t":2.15,"v":-0.11},{"s":12,"t":2.2,"v":-0.09},{"s":12,"t":2.25,"v":-0.14},{"s":12,"t":2.3,"v":-0.105},{"s":12,"t":2.35,"v":-0.15},{"s":12,"t":2.4,"v":-0.1},{"s":12,"t":2.45,"v":-0.13},{"s":12,"t":2.5,"v":-0.12},{"s":12,"t":2.55,"v":-0.09},{"s":12,"t":2.6,"v":-0.135},{"s":12,"t":2.65,"v":-0.1},{"s":12,"t":2.7,"v":-0.15},{"s":12,"t":2.75,"v":-0.11},{"s":12,"t":2.8,"v":-0.09},{"s":12,"t":2.85,"v":-0.14},{"s":12,"t":2.9,"v":-0.105},{"s":12,"t":2.95,"v":-0.15},{"s":12,"t":3.0,"v":-0.1},{"s":12,"t":3.05,"v":-0.13},{"s":12,"t":3.1,"v":-0.12},{"s":12,"t":3.15,"v":-0.09},{"s":12,"t":3.2,"v":-0.135},{"s":12,"t":3.25,"v":-0.1},{"s":12,"t":3.3,"v":-0.15},{"s":12,"t":3.35,"v":-0.11},{"s":12,"t":3.38,"v":-0.2},{"s":12,"t":3.4,"v":-0.09},{"s":12,"t":3.42,"v":-0.18},{"s":12,"t":3.448,"v":-0.12},{"s":12,"t":3.451,"v":0.52},{"s":12,"t":3.458,"v":0.43},{"s":12,"t":3.48,"v":0.42},{"s":12,"t":3.51,"v":0.41},{"s":12,"t":3.54,"v":0.42},{"s":12,"t":3.57,"v":0.41},{"s":12,"t":3.6,"v":0.42},{"s":12,"t":3.625,"v":0.41},{"s":12,"t":3.648,"v":0.42},{"s":12,"t":3.651,"v":-0.12},{"s":12,"t":3.66,"v":-0.08},{"s":12,"t":3.7,"v":-0.03},{"s":12,"t":3.75,"v":0},

{"s":13,"t":-0.006,"v":0.01},{"s":13,"t":0.008,"v":0.04},{"s":13,"t":0.02,"v":0},{"s":13,"t":0.03,"v":0.035},{"s":13,"t":0.036,"v":0.01},{"s":13,"t":0.038,"v":-0.53},{"s":13,"t":0.042,"v":-0.02},{"s":13,"t":0.055,"v":0.03},{"s":13,"t":0.07,"v":0},{"s":13,"t":0.083,"v":-0.03},{"s":13,"t":0.092,"v":0.02},{"s":13,"t":0.098,"v":-0.05},{"s":13,"t":0.1,"v":1},{"s":13,"t":0.106,"v":0.42},
{"s":13,"t":0.12,"v":0.36},{"s":13,"t":0.15,"v":0.42},{"s":13,"t":0.2,"v":0.485},{"s":13,"t":0.26,"v":0.505},{"s":13,"t":0.32,"v":0.58},{"s":13,"t":0.38,"v":0.66},{"s":13,"t":0.45,"v":0.68},{"s":13,"t":0.52,"v":0.75},{"s":13,"t":0.6,"v":0.775},{"s":13,"t":0.68,"v":0.83},{"s":13,"t":0.76,"v":0.83},{"s":13,"t":0.84,"v":0.885},{"s":13,"t":0.92,"v":0.87},{"s":13,"t":1.0,"v":0.92},{"s":13,"t":1.08,"v":0.945},{"s":13,"t":1.16,"v":0.915},{"s":13,"t":1.24,"v":0.945},{"s":13,"t":1.32,"v":0.97},{"s":13,"t":1.4,"v":0.94},{"s":13,"t":1.48,"v":0.975},{"s":13,"t":1.54,"v":0.965},{"s":13,"t":1.59,"v":0.985},
{"s":13,"t":1.598,"v":0.98},{"s":13,"t":1.601,"v":-0.88},{"s":13,"t":1.606,"v":-0.5},{"s":13,"t":1.615,"v":-0.2},{"s":13,"t":1.63,"v":-0.04},{"s":13,"t":1.65,"v":0.02},{"s":13,"t":1.7,"v":-0.015},{"s":13,"t":1.75,"v":0.01},{"s":13,"t":1.8,"v":-0.02},{"s":13,"t":1.85,"v":0.015},{"s":13,"t":1.9,"v":-0.005},{"s":13,"t":1.95,"v":0},{"s":13,"t":2.0,"v":0.02},{"s":13,"t":2.05,"v":-0.01},{"s":13,"t":2.1,"v":0.015},{"s":13,"t":2.15,"v":-0.02},{"s":13,"t":2.2,"v":0.005},{"s":13,"t":2.25,"v":0.02},{"s":13,"t":2.3,"v":-0.015},{"s":13,"t":2.35,"v":0.01},{"s":13,"t":2.4,"v":-0.02},{"s":13,"t":2.45,"v":0.015},{"s":13,"t":2.5,"v":-0.005},{"s":13,"t":2.55,"v":0},{"s":13,"t":2.6,"v":0.02},{"s":13,"t":2.65,"v":-0.01},{"s":13,"t":2.7,"v":0.015},{"s":13,"t":2.75,"v":-0.02},{"s":13,"t":2.8,"v":0.005},{"s":13,"t":2.85,"v":0.02},{"s":13,"t":2.9,"v":-0.015},{"s":13,"t":2.95,"v":0.01},{"s":13,"t":3.0,"v":-0.02},{"s":13,"t":3.05,"v":0.015},{"s":13,"t":3.1,"v":-0.005},{"s":13,"t":3.15,"v":0},{"s":13,"t":3.2,"v":0.02},{"s":13,"t":3.25,"v":-0.01},{"s":13,"t":3.3,"v":0.015},{"s":13,"t":3.35,"v":-0.02},{"s":13,"t":3.4,"v":0.005},{"s":13,"t":3.45,"v":0.02},{"s":13,"t":3.5,"v":-0.015},{"s":13,"t":3.55,"v":0.01},{"s":13,"t":3.598,"v":-0.01},{"s":13,"t":3.601,"v":0.63},{"s":13,"t":3.606,"v":0.5},{"s":13,"t":3.615,"v":0.43},{"s":13,"t":3.64,"v":0.44},{"s":13,"t":3.67,"v":0.47},{"s":13,"t":3.7,"v":0.49},{"s":13,"t":3.73,"v":0.51},{"s":13,"t":3.76,"v":0.52},{"s":13,"t":3.78,"v":0.53},{"s":13,"t":3.798,"v":0.54},{"s":13,"t":3.801,"v":-0.2},{"s":13,"t":3.82,"v":-0.1},{"s":13,"t":3.85,"v":-0.04},{"s":13,"t":3.9,"v":-0.01},

{"s":14,"t":-0.006,"v":-0.01},{"s":14,"t":0.008,"v":0.02},{"s":14,"t":0.02,"v":-0.02},{"s":14,"t":0.03,"v":0.015},{"s":14,"t":0.036,"v":-0.01},{"s":14,"t":0.038,"v":-0.46},{"s":14,"t":0.042,"v":-0.04},{"s":14,"t":0.055,"v":0.01},{"s":14,"t":0.07,"v":-0.02},{"s":14,"t":0.083,"v":-0.05},{"s":14,"t":0.092,"v":0},{"s":14,"t":0.098,"v":-0.07},{"s":14,"t":0.1,"v":1},{"s":14,"t":0.106,"v":0.34},
{"s":14,"t":0.12,"v":0.285},{"s":14,"t":0.15,"v":0.33},{"s":14,"t":0.2,"v":0.4},{"s":14,"t":0.26,"v":0.42},{"s":14,"t":0.32,"v":0.5},{"s":14,"t":0.38,"v":0.535},{"s":14,"t":0.45,"v":0.62},{"s":14,"t":0.52,"v":0.64},{"s":14,"t":0.6,"v":0.715},{"s":14,"t":0.68,"v":0.71},{"s":14,"t":0.76,"v":0.77},{"s":14,"t":0.84,"v":0.815},{"s":14,"t":0.92,"v":0.805},{"s":14,"t":1.0,"v":0.85},{"s":14,"t":1.08,"v":0.89},{"s":14,"t":1.16,"v":0.87},{"s":14,"t":1.24,"v":0.91},{"s":14,"t":1.32,"v":0.915},{"s":14,"t":1.4,"v":0.95},{"s":14,"t":1.48,"v":0.92},{"s":14,"t":1.54,"v":0.955},{"s":14,"t":1.59,"v":0.975},
{"s":14,"t":1.598,"v":0.97},{"s":14,"t":1.601,"v":-0.88},{"s":14,"t":1.61,"v":-0.6},{"s":14,"t":1.63,"v":-0.42},{"s":14,"t":1.66,"v":-0.45},{"s":14,"t":1.7,"v":-0.55},{"s":14,"t":1.75,"v":-0.68},{"s":14,"t":1.8,"v":-0.78},{"s":14,"t":1.85,"v":-0.85},{"s":14,"t":1.9,"v":-0.9},{"s":14,"t":1.93,"v":-0.87},{"s":14,"t":1.96,"v":-0.95},{"s":14,"t":2.0,"v":-0.93},{"s":14,"t":2.03,"v":-0.98},{"s":14,"t":2.06,"v":-0.9},{"s":14,"t":2.1,"v":-0.96},{"s":14,"t":2.13,"v":-1.0},{"s":14,"t":2.16,"v":-0.94},{"s":14,"t":2.2,"v":-1.02},{"s":14,"t":2.23,"v":-0.96},{"s":14,"t":2.26,"v":-0.92},{"s":14,"t":2.3,"v":-0.95},{"s":14,"t":2.33,"v":-0.88},{"s":14,"t":2.36,"v":-0.85},{"s":14,"t":2.4,"v":-0.9},{"s":14,"t":2.43,"v":-0.86},{"s":14,"t":2.46,"v":-0.92},{"s":14,"t":2.5,"v":-0.95},{"s":14,"t":2.53,"v":-0.9},{"s":14,"t":2.56,"v":-0.97},{"s":14,"t":2.598,"v":-0.98},{"s":14,"t":2.601,"v":-0.45},{"s":14,"t":2.63,"v":-0.47},{"s":14,"t":2.66,"v":-0.5},{"s":14,"t":2.7,"v":-0.48},{"s":14,"t":2.75,"v":-0.55},{"s":14,"t":2.8,"v":-0.53},{"s":14,"t":2.85,"v":-0.6},{"s":14,"t":2.9,"v":-0.58},{"s":14,"t":2.95,"v":-0.62},{"s":14,"t":3.0,"v":-0.6},{"s":14,"t":3.05,"v":-0.64},{"s":14,"t":3.1,"v":-0.62},{"s":14,"t":3.15,"v":-0.66},{"s":14,"t":3.2,"v":-0.68},{"s":14,"t":3.25,"v":-0.65},{"s":14,"t":3.3,"v":-0.66},{"s":14,"t":3.35,"v":-0.63},{"s":14,"t":3.4,"v":-0.62},{"s":14,"t":3.45,"v":-0.58},{"s":14,"t":3.5,"v":-0.56},{"s":14,"t":3.55,"v":-0.54},{"s":14,"t":3.6,"v":-0.52},{"s":14,"t":3.65,"v":-0.5},{"s":14,"t":3.7,"v":-0.48},{"s":14,"t":3.748,"v":-0.5},{"s":14,"t":3.751,"v":0.83},{"s":14,"t":3.76,"v":0.78},{"s":14,"t":3.8,"v":0.82},{"s":14,"t":3.85,"v":0.87},{"s":14,"t":3.9,"v":0.92},{"s":14,"t":3.93,"v":0.95},{"s":14,"t":3.96,"v":1.0},{"s":14,"t":3.963,"v":-0.85},{"s":14,"t":3.975,"v":-0.62},{"s":14,"t":3.99,"v":-0.52},{"s":14,"t":4.01,"v":-0.5},{"s":14,"t":4.03,"v":-0.47},{"s":14,"t":4.05,"v":-0.5},

{"s":15,"t":-0.006,"v":0.02},{"s":15,"t":0.008,"v":0.05},{"s":15,"t":0.02,"v":0.01},{"s":15,"t":0.03,"v":0.045},{"s":15,"t":0.036,"v":0.02},{"s":15,"t":0.038,"v":-0.52},{"s":15,"t":0.042,"v":-0.01},{"s":15,"t":0.055,"v":0.04},{"s":15,"t":0.07,"v":0.01},{"s":15,"t":0.083,"v":-0.02},{"s":15,"t":0.092,"v":0.03},{"s":15,"t":0.098,"v":-0.04},{"s":15,"t":0.1,"v":1},{"s":15,"t":0.106,"v":0.38},
{"s":15,"t":0.12,"v":0.32},{"s":15,"t":0.15,"v":0.38},{"s":15,"t":0.2,"v":0.415},{"s":15,"t":0.26,"v":0.5},{"s":15,"t":0.32,"v":0.52},{"s":15,"t":0.38,"v":0.595},{"s":15,"t":0.45,"v":0.62},{"s":15,"t":0.52,"v":0.7},{"s":15,"t":0.6,"v":0.765},{"s":15,"t":0.68,"v":0.765},{"s":15,"t":0.76,"v":0.81},{"s":15,"t":0.84,"v":0.86},{"s":15,"t":0.92,"v":0.85},{"s":15,"t":1.0,"v":0.9},{"s":15,"t":1.08,"v":0.905},{"s":15,"t":1.16,"v":0.94},{"s":15,"t":1.24,"v":0.92},{"s":15,"t":1.32,"v":0.96},{"s":15,"t":1.4,"v":0.985},{"s":15,"t":1.48,"v":0.955},{"s":15,"t":1.54,"v":0.98},{"s":15,"t":1.59,"v":1.0},
{"s":15,"t":1.598,"v":0.99},{"s":15,"t":1.601,"v":-0.88},{"s":15,"t":1.606,"v":-0.55},{"s":15,"t":1.615,"v":-0.2},{"s":15,"t":1.63,"v":0.05},{"s":15,"t":1.65,"v":0.11},{"s":15,"t":1.7,"v":0.135},{"s":15,"t":1.75,"v":0.1},{"s":15,"t":1.8,"v":0.125},{"s":15,"t":1.85,"v":0.14},{"s":15,"t":1.9,"v":0.105},{"s":15,"t":1.95,"v":0.13},{"s":15,"t":2.0,"v":0.1},{"s":15,"t":2.05,"v":0.135},{"s":15,"t":2.1,"v":0.115},{"s":15,"t":2.15,"v":0.12},{"s":15,"t":2.2,"v":0.14},{"s":15,"t":2.25,"v":0.105},{"s":15,"t":2.3,"v":0.13},{"s":15,"t":2.35,"v":0.095},{"s":15,"t":2.4,"v":0.12},{"s":15,"t":2.45,"v":0.135},{"s":15,"t":2.5,"v":0.1},{"s":15,"t":2.55,"v":0.12},{"s":15,"t":2.6,"v":0.095},{"s":15,"t":2.65,"v":0.125},{"s":15,"t":2.7,"v":0.105},{"s":15,"t":2.75,"v":0.11},{"s":15,"t":2.8,"v":0.13},{"s":15,"t":2.85,"v":0.095},{"s":15,"t":2.9,"v":0.12},{"s":15,"t":2.95,"v":0.09},{"s":15,"t":3.0,"v":0.085},{"s":15,"t":3.05,"v":0.11},{"s":15,"t":3.1,"v":0.125},{"s":15,"t":3.15,"v":0.09},{"s":15,"t":3.2,"v":0.11},{"s":15,"t":3.25,"v":0.08},{"s":15,"t":3.3,"v":0.115},{"s":15,"t":3.35,"v":0.095},{"s":15,"t":3.4,"v":0.1},{"s":15,"t":3.45,"v":0.12},{"s":15,"t":3.5,"v":0.085},{"s":15,"t":3.55,"v":0.105},{"s":15,"t":3.6,"v":0.075},{"s":15,"t":3.65,"v":0.11},{"s":15,"t":3.7,"v":0.09},{"s":15,"t":3.75,"v":0.095},{"s":15,"t":3.8,"v":0.1},{"s":15,"t":3.85,"v":0.07},{"s":15,"t":3.898,"v":0.08},{"s":15,"t":3.901,"v":0.83},{"s":15,"t":3.91,"v":0.78},{"s":15,"t":3.92,"v":0.75},{"s":15,"t":3.95,"v":0.75},{"s":15,"t":3.98,"v":0.76},{"s":15,"t":4.01,"v":0.75},{"s":15,"t":4.04,"v":0.76},{"s":15,"t":4.07,"v":0.76},{"s":15,"t":4.098,"v":0.75},{"s":15,"t":4.101,"v":0.09},{"s":15,"t":4.11,"v":0.12},{"s":15,"t":4.13,"v":0.11},{"s":15,"t":4.16,"v":0.12},{"s":15,"t":4.18,"v":0.1},{"s":15,"t":4.2,"v":0.11}
]},
"mark": {"type": "line", "color": "black", "strokeWidth": 2.5, "strokeJoin": "round", "clip": true},
"encoding": {
  "x": {"field": "t", "type": "quantitative", "scale": {"domain": [-0.176, 4.376], "nice": false, "zero": false},
        "axis": {"values": [0.1, 2.05, 4], "labelExpr": "'' + datum.value", "title": "t [s]", "labelPadding": 18, "titlePadding": 5}},
  "y": {"field": "v", "type": "quantitative", "scale": {"domain": [-1.075, 1.184], "nice": false, "zero": false},
        "axis": {"values": [-1, -0.5, 0, 0.5, 1], "labelExpr": "'' + datum.value", "title": "I [nA]", "labelPadding": 18, "titlePadding": 11}},
  "detail": {"field": "s", "type": "nominal"}
}
},
{
"data": {"values": [{"tx": 0.1}, {"tx": 2.05}, {"tx": 4}]},
"mark": {"type": "tick", "orient": "vertical", "color": "#262626", "thickness": 1, "size": 16, "clip": true, "opacity": 1},
"encoding": {
  "x": {"field": "tx", "type": "quantitative", "scale": {"domain": [-0.176, 4.376], "nice": false, "zero": false}},
  "y": {"datum": -1.075, "type": "quantitative", "scale": {"domain": [-1.075, 1.184], "nice": false, "zero": false}}
}
},
{
"data": {"values": [{"ty": -1}, {"ty": -0.5}, {"ty": 0}, {"ty": 0.5}, {"ty": 1}]},
"mark": {"type": "tick", "orient": "horizontal", "color": "#262626", "thickness": 1, "size": 16, "clip": true, "opacity": 1},
"encoding": {
  "x": {"datum": -0.176, "type": "quantitative", "scale": {"domain": [-0.176, 4.376], "nice": false, "zero": false}},
  "y": {"field": "ty", "type": "quantitative", "scale": {"domain": [-1.075, 1.184], "nice": false, "zero": false}}
}
},
{
"data": {"values": [{"label": "Kv3.4\u00a0 Rat\u00a0 CHO\u00a0 25 °C"}]},
"mark": {"type": "text", "align": "left", "baseline": "alphabetic", "font": "DejaVu Sans", "fontWeight": "bold", "fontSize": 22, "color": "black"},
"encoding": {
  "x": {"datum": 0.062, "type": "quantitative", "scale": {"domain": [-0.176, 4.376], "nice": false, "zero": false}},
  "y": {"datum": 1.184, "type": "quantitative", "scale": {"domain": [-1.075, 1.184], "nice": false, "zero": false}},
  "text": {"field": "label"}
}
},
{
"data": {"values": [{"label": "Recovery"}]},
"mark": {"type": "text", "align": "right", "baseline": "alphabetic", "font": "DejaVu Sans", "fontSize": 22, "color": "black"},
"encoding": {
  "x": {"datum": 4.269, "type": "quantitative", "scale": {"domain": [-0.176, 4.376], "nice": false, "zero": false}},
  "y": {"datum": 1.184, "type": "quantitative", "scale": {"domain": [-1.075, 1.184], "nice": false, "zero": false}},
  "text": {"field": "label"}
}
},
{
"data": {"values": [{"label": "BBP Channelpedia ID 28098 rep 1"}]},
"mark": {"type": "text", "align": "center", "baseline": "middle", "angle": 270, "font": "DejaVu Sans", "fontSize": 21, "color": "black"},
"encoding": {
  "x": {"datum": 4.345, "type": "quantitative", "scale": {"domain": [-0.176, 4.376], "nice": false, "zero": false}},
  "y": {"datum": 0.052, "type": "quantitative", "scale": {"domain": [-1.075, 1.184], "nice": false, "zero": false}},
  "text": {"field": "label"}
}
}
]
}
